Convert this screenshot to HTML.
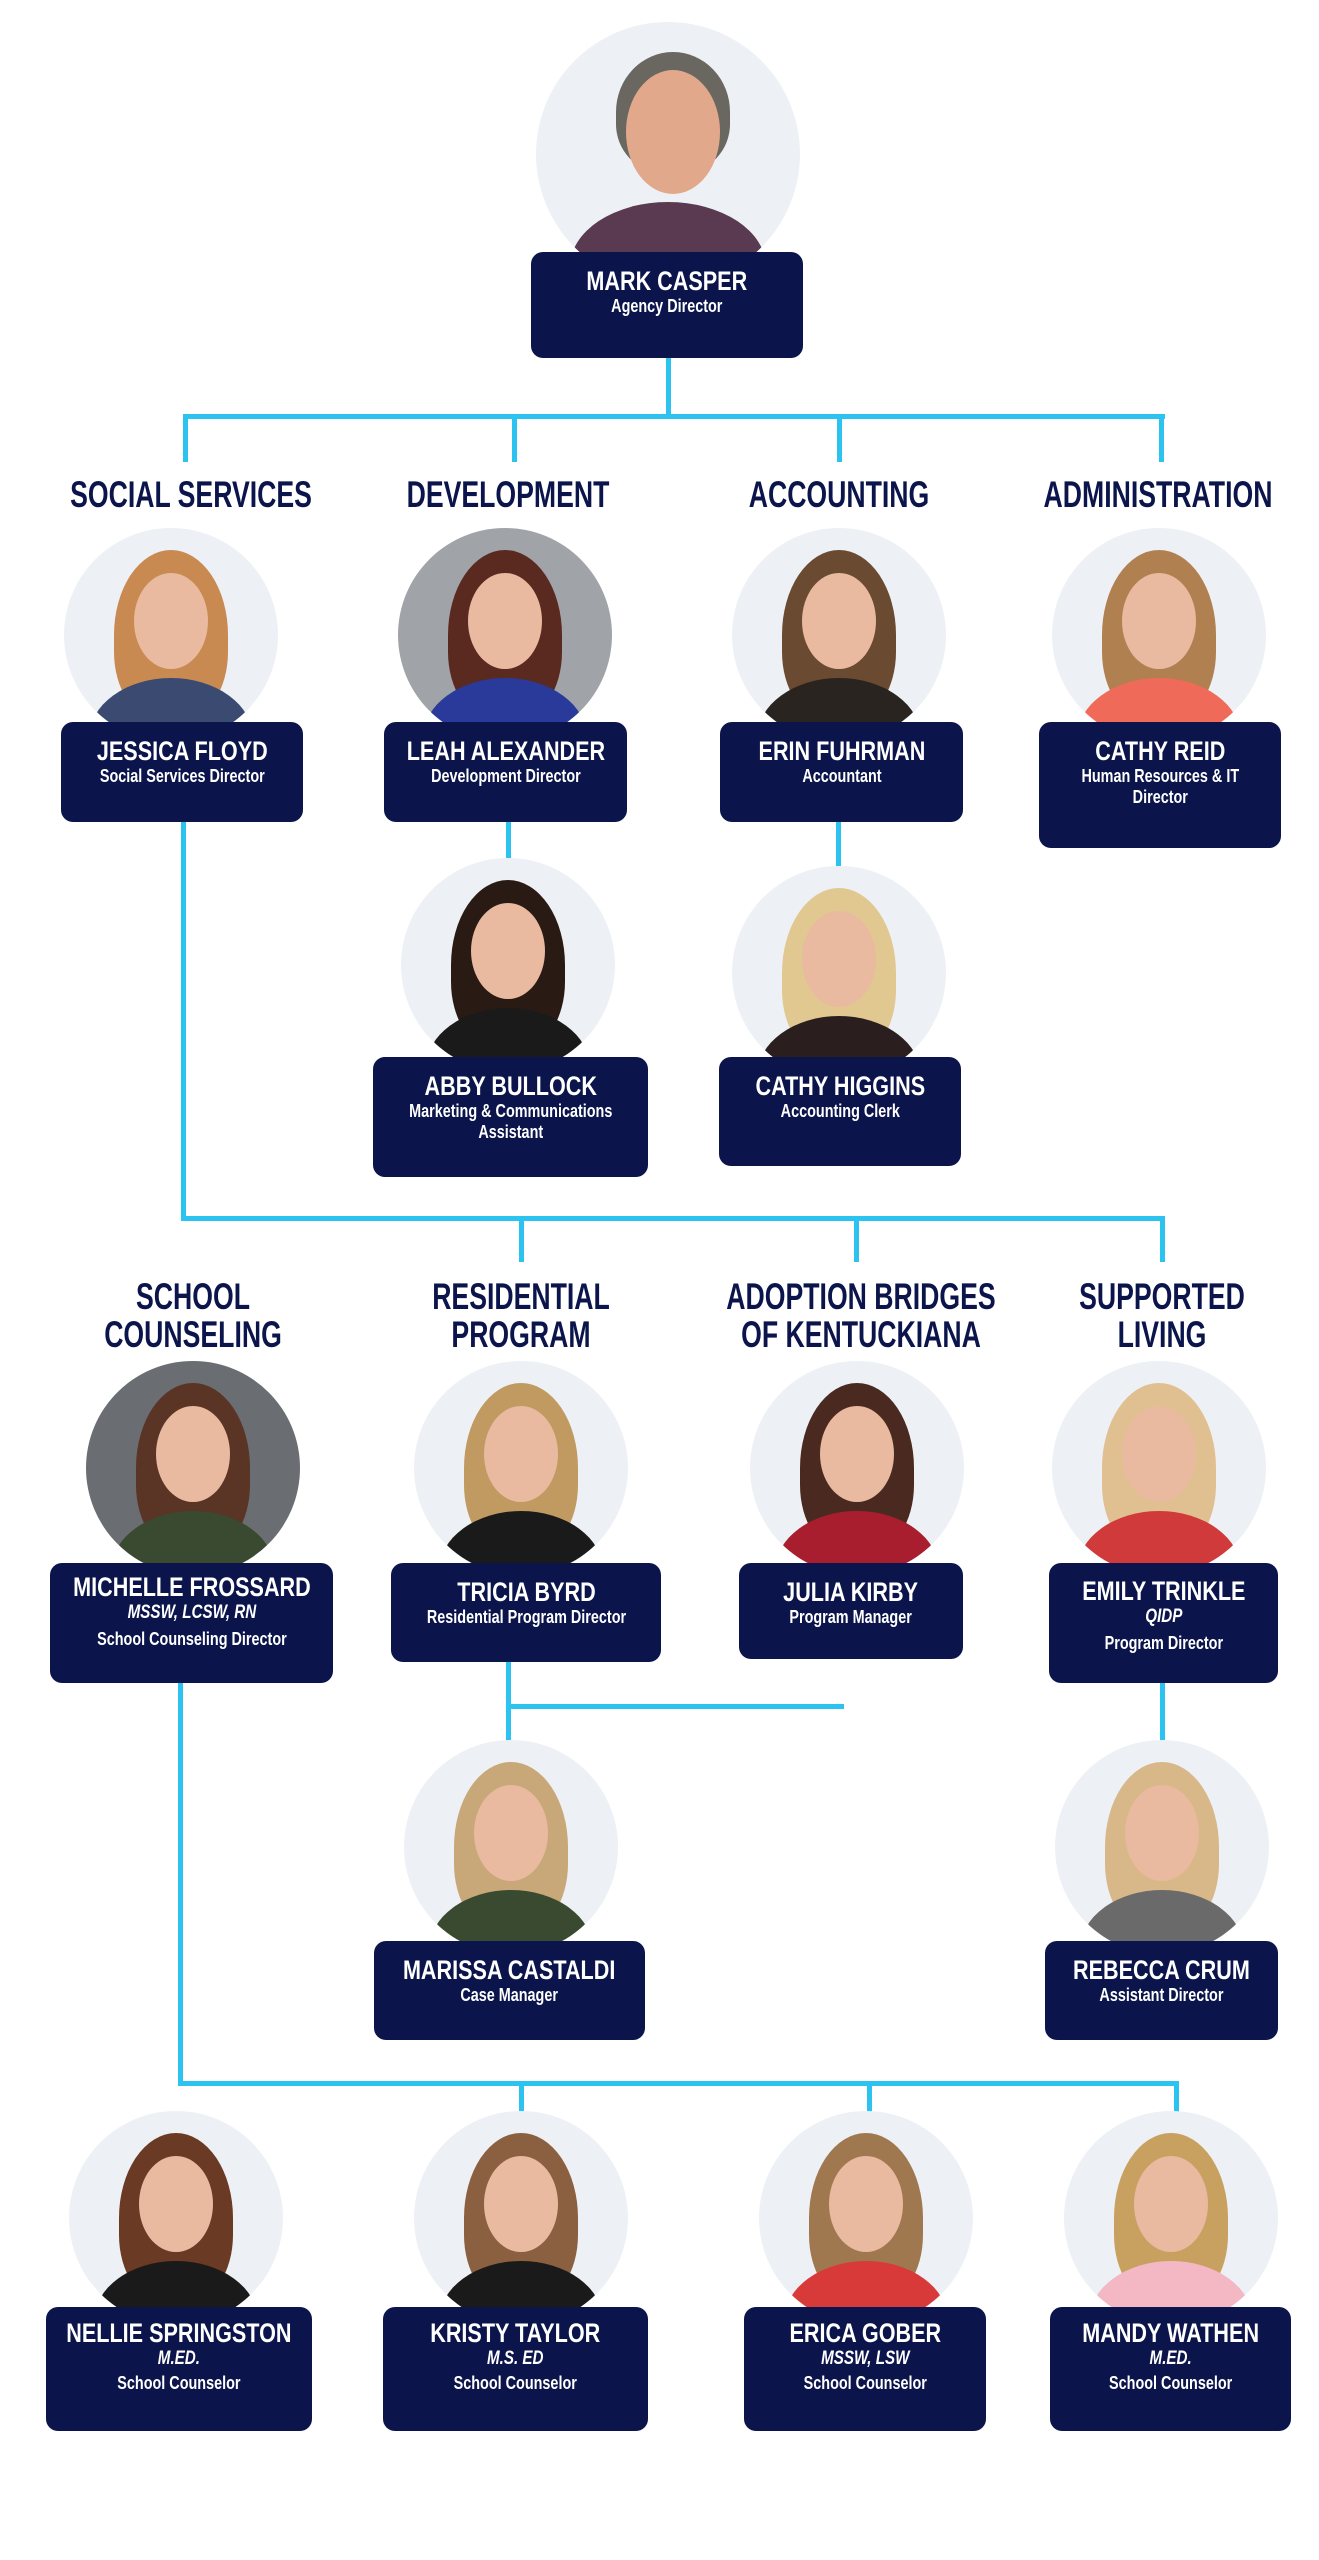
<!DOCTYPE html>
<html><head><meta charset="utf-8"><style>
body{margin:0;width:1319px;height:2560px;background:#fff;position:relative;overflow:hidden;font-family:"Liberation Sans",sans-serif}
.l{position:absolute;background:#2cc3f0}
.av{position:absolute;width:214px;height:214px;border-radius:50%;overflow:hidden;background:#edf1f5}
.av .h{position:absolute;left:50px;top:22px;width:114px;height:170px;border-radius:50% 50% 40% 40%}
.av .f{position:absolute;left:70px;top:45px;width:74px;height:96px;border-radius:50%;background:#e9b9a0}
.av .b{position:absolute;left:25px;top:150px;width:164px;height:120px;border-radius:50% 50% 0 0}
.bx{position:absolute;background:#0b154b;border-radius:12px;color:#fff;text-align:center;font-weight:bold;overflow:hidden}
.bx>div{width:130%;margin-left:-15%;transform:scaleX(.8);white-space:nowrap}
.bx .n{font-size:27px;line-height:29px;margin-top:15px}
.bx .s{font-size:18px;line-height:21px}
.bx .i{font-size:19px;line-height:21px;font-style:italic}
.t{position:absolute;color:#0b154b;font-weight:bold;font-size:37px;line-height:38px;text-align:center;width:440px;transform:scaleX(.72);white-space:nowrap}
</style></head><body>
<div class="l" style="left:666px;top:356px;width:5px;height:63px"></div>
<div class="l" style="left:183px;top:414px;width:982px;height:5px"></div>
<div class="l" style="left:183px;top:414px;width:5px;height:48px"></div>
<div class="l" style="left:512px;top:414px;width:5px;height:48px"></div>
<div class="l" style="left:837px;top:414px;width:5px;height:48px"></div>
<div class="l" style="left:1159px;top:414px;width:5px;height:48px"></div>
<div class="l" style="left:506px;top:820px;width:5px;height:50px"></div>
<div class="l" style="left:836px;top:820px;width:5px;height:50px"></div>
<div class="l" style="left:181px;top:820px;width:5px;height:400px"></div>
<div class="l" style="left:181px;top:1216px;width:983px;height:5px"></div>
<div class="l" style="left:519px;top:1216px;width:5px;height:46px"></div>
<div class="l" style="left:854px;top:1216px;width:5px;height:46px"></div>
<div class="l" style="left:1160px;top:1216px;width:5px;height:46px"></div>
<div class="l" style="left:506px;top:1660px;width:5px;height:104px"></div>
<div class="l" style="left:506px;top:1704px;width:338px;height:5px"></div>
<div class="l" style="left:1160px;top:1680px;width:5px;height:68px"></div>
<div class="l" style="left:178px;top:1680px;width:5px;height:405px"></div>
<div class="l" style="left:178px;top:2081px;width:1000px;height:5px"></div>
<div class="l" style="left:519px;top:2081px;width:5px;height:34px"></div>
<div class="l" style="left:867px;top:2081px;width:5px;height:34px"></div>
<div class="l" style="left:1174px;top:2081px;width:5px;height:34px"></div>

<div class="t" style="left:-29px;top:476px">SOCIAL SERVICES</div>
<div class="t" style="left:288px;top:476px">DEVELOPMENT</div>
<div class="t" style="left:619px;top:476px">ACCOUNTING</div>
<div class="t" style="left:938px;top:476px">ADMINISTRATION</div>
<div class="t" style="left:-27px;top:1278px">SCHOOL<br>COUNSELING</div>
<div class="t" style="left:301px;top:1278px">RESIDENTIAL<br>PROGRAM</div>
<div class="t" style="left:641px;top:1278px">ADOPTION BRIDGES<br>OF KENTUCKIANA</div>
<div class="t" style="left:942px;top:1278px">SUPPORTED<br>LIVING</div>

<div class="av" style="left:536px;top:22px;width:264px;height:264px"><div class="h" style="background:#6a6660;left:80px;top:30px;width:114px;height:120px"></div><div class="f" style="left:90px;top:48px;width:94px;height:124px;background:#e2a88c"></div><div class="b" style="background:#5a3a50;left:34px;top:180px;width:196px;height:130px"></div></div>
<div class="av" style="left:64px;top:528px"><div class="h" style="background:#c88a50"></div><div class="f"></div><div class="b" style="background:#3a4a70"></div></div>
<div class="av" style="left:398px;top:528px;background:#a0a4a8"><div class="h" style="background:#5a2a20"></div><div class="f"></div><div class="b" style="background:#2a3a9a"></div></div>
<div class="av" style="left:732px;top:528px"><div class="h" style="background:#6a4a30"></div><div class="f"></div><div class="b" style="background:#2a2420"></div></div>
<div class="av" style="left:1052px;top:528px"><div class="h" style="background:#b08050"></div><div class="f"></div><div class="b" style="background:#f06a5a"></div></div>
<div class="av" style="left:401px;top:858px"><div class="h" style="background:#2a1a14"></div><div class="f"></div><div class="b" style="background:#1a1a1a"></div></div>
<div class="av" style="left:732px;top:866px"><div class="h" style="background:#e0c890"></div><div class="f"></div><div class="b" style="background:#2a1e1e"></div></div>
<div class="av" style="left:86px;top:1361px;background:#6a6e72"><div class="h" style="background:#5a3424"></div><div class="f"></div><div class="b" style="background:#3a4a30"></div></div>
<div class="av" style="left:414px;top:1361px"><div class="h" style="background:#c09a60"></div><div class="f"></div><div class="b" style="background:#1a1a1a"></div></div>
<div class="av" style="left:750px;top:1361px"><div class="h" style="background:#4a2a20"></div><div class="f"></div><div class="b" style="background:#a81e2e"></div></div>
<div class="av" style="left:1052px;top:1361px"><div class="h" style="background:#e0c090"></div><div class="f"></div><div class="b" style="background:#d03a3a"></div></div>
<div class="av" style="left:404px;top:1740px"><div class="h" style="background:#c8a878"></div><div class="f"></div><div class="b" style="background:#3a4a30"></div></div>
<div class="av" style="left:1055px;top:1740px"><div class="h" style="background:#d8b888"></div><div class="f"></div><div class="b" style="background:#6a6a6a"></div></div>
<div class="av" style="left:69px;top:2111px"><div class="h" style="background:#6a3a24"></div><div class="f"></div><div class="b" style="background:#1a1a1a"></div></div>
<div class="av" style="left:414px;top:2111px"><div class="h" style="background:#8a6040"></div><div class="f"></div><div class="b" style="background:#1a1a1a"></div></div>
<div class="av" style="left:759px;top:2111px"><div class="h" style="background:#a07850"></div><div class="f"></div><div class="b" style="background:#d83a3a"></div></div>
<div class="av" style="left:1064px;top:2111px"><div class="h" style="background:#c8a060"></div><div class="f"></div><div class="b" style="background:#f4b8c4"></div></div>

<div class="bx" style="left:531px;top:252px;width:272px;height:106px"><div class="n">MARK CASPER</div><div class="s">Agency Director</div></div>
<div class="bx" style="left:61px;top:722px;width:242px;height:100px"><div class="n">JESSICA FLOYD</div><div class="s">Social Services Director</div></div>
<div class="bx" style="left:384px;top:722px;width:243px;height:100px"><div class="n">LEAH ALEXANDER</div><div class="s">Development Director</div></div>
<div class="bx" style="left:720px;top:722px;width:243px;height:100px"><div class="n">ERIN FUHRMAN</div><div class="s">Accountant</div></div>
<div class="bx" style="left:1039px;top:722px;width:242px;height:126px"><div class="n">CATHY REID</div><div class="s">Human Resources &amp; IT<br>Director</div></div>
<div class="bx" style="left:373px;top:1057px;width:275px;height:120px"><div class="n">ABBY BULLOCK</div><div class="s">Marketing &amp; Communications<br>Assistant</div></div>
<div class="bx" style="left:719px;top:1057px;width:242px;height:109px"><div class="n">CATHY HIGGINS</div><div class="s">Accounting Clerk</div></div>
<div class="bx" style="left:50px;top:1563px;width:283px;height:120px"><div class="n" style="margin-top:10px">MICHELLE FROSSARD</div><div class="i">MSSW, LCSW, RN</div><div class="s" style="margin-top:6px">School Counseling Director</div></div>
<div class="bx" style="left:391px;top:1563px;width:270px;height:99px"><div class="n">TRICIA BYRD</div><div class="s">Residential Program Director</div></div>
<div class="bx" style="left:739px;top:1563px;width:224px;height:96px"><div class="n">JULIA KIRBY</div><div class="s">Program Manager</div></div>
<div class="bx" style="left:1049px;top:1563px;width:229px;height:120px"><div class="n" style="margin-top:14px">EMILY TRINKLE</div><div class="i">QIDP</div><div class="s" style="margin-top:6px">Program Director</div></div>
<div class="bx" style="left:374px;top:1941px;width:271px;height:99px"><div class="n">MARISSA CASTALDI</div><div class="s">Case Manager</div></div>
<div class="bx" style="left:1045px;top:1941px;width:233px;height:99px"><div class="n">REBECCA CRUM</div><div class="s">Assistant Director</div></div>
<div class="bx" style="left:46px;top:2307px;width:266px;height:124px"><div class="n" style="margin-top:12px">NELLIE SPRINGSTON</div><div class="i">M.ED.</div><div class="s" style="margin-top:4px">School Counselor</div></div>
<div class="bx" style="left:383px;top:2307px;width:265px;height:124px"><div class="n" style="margin-top:12px">KRISTY TAYLOR</div><div class="i">M.S. ED</div><div class="s" style="margin-top:4px">School Counselor</div></div>
<div class="bx" style="left:744px;top:2307px;width:242px;height:124px"><div class="n" style="margin-top:12px">ERICA GOBER</div><div class="i">MSSW, LSW</div><div class="s" style="margin-top:4px">School Counselor</div></div>
<div class="bx" style="left:1050px;top:2307px;width:241px;height:124px"><div class="n" style="margin-top:12px">MANDY WATHEN</div><div class="i">M.ED.</div><div class="s" style="margin-top:4px">School Counselor</div></div>
</body></html>
